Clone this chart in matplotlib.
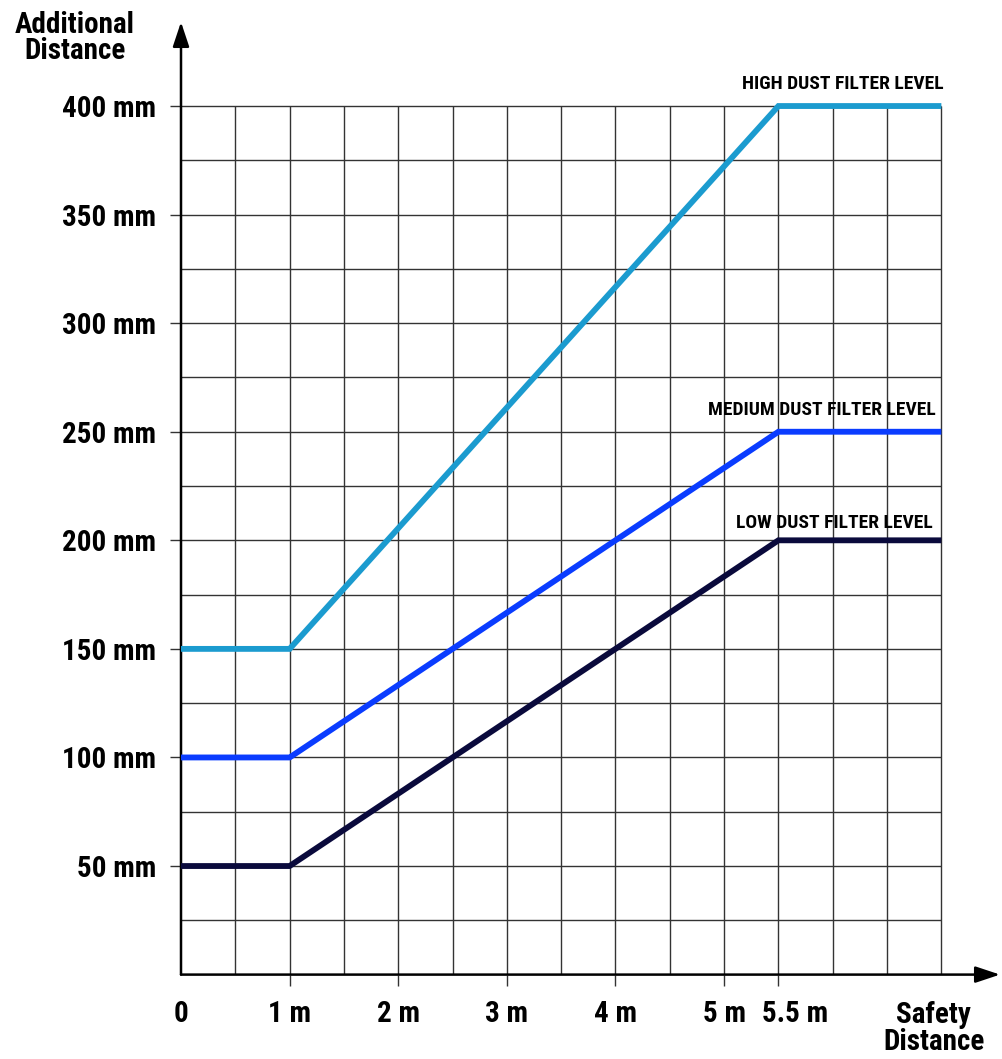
import numpy as np
import matplotlib.pyplot as plt
import matplotlib.transforms as mtransforms
from matplotlib import font_manager

# fuente condensada si existe
names = set(f.name for f in font_manager.fontManager.ttflist)
fam = [n for n in ["Liberation Sans Narrow", "Roboto Condensed", "Liberation Sans", "DejaVu Sans"] if n in names]
plt.rcParams['font.family'] = fam
plt.rcParams['font.weight'] = 'bold'

# datos
x_pts = [0, 1, 5.5, 7]
high = [150, 150, 400, 400]
medium = [100, 100, 250, 250]
low = [50, 50, 200, 200]
labels = ["HIGH DUST FILTER LEVEL", "MEDIUM DUST FILTER LEVEL", "LOW DUST FILTER LEVEL"]
colors = ["#1b9bcf", "#0a3cff", "#0a0a3c"]

xticks = [0, 1, 2, 3, 4, 5, 5.5]
xticklabels = ["0", "1 m", "2 m", "3 m", "4 m", "5 m", "5.5 m"]
yticks = [50, 100, 150, 200, 250, 300, 350, 400]
yticklabels = ["%d mm" % v for v in yticks]

fig = plt.figure(figsize=(10.02, 10.59), dpi=100)
ax = fig.add_axes([181/1002, (1059-974.6)/1059, (1000-181)/1002, 952.6/1059])
ax.set_xlim(0, 7.54)
ax.set_ylim(0, 438.7)

# rejilla
ax.vlines(np.arange(0.5, 7.01, 0.5), 0, 400, color="#333333", lw=1, zorder=1)
ax.hlines(np.arange(25, 401, 25), 0, 7, color="#333333", lw=1, zorder=1)

# ejes con flechas
for s in ax.spines.values():
    s.set_visible(False)
ax.annotate("", xy=(1, 0), xytext=(0, 0), xycoords="axes fraction",
            arrowprops=dict(arrowstyle="-|>,head_length=1.5,head_width=0.5", color="black", lw=1.8, shrinkA=0, shrinkB=0))
ax.annotate("", xy=(0, 1), xytext=(0, 0), xycoords="axes fraction",
            arrowprops=dict(arrowstyle="-|>,head_length=1.5,head_width=0.5", color="black", lw=1.8, shrinkA=0, shrinkB=0))

# lineas
for ys, c in zip([high, medium, low], colors):
    ax.plot(x_pts, ys, color=c, lw=4.2, solid_joinstyle="miter", solid_capstyle="butt", zorder=3)

ax.text(7.02, 400 + 6, labels[0], ha="right", va="bottom", fontsize=14, fontweight="bold")
ax.text(6.95, 250 + 6, labels[1], ha="right", va="bottom", fontsize=14, fontweight="bold")
ax.text(6.92, 200 + 4, labels[2], ha="right", va="bottom", fontsize=14, fontweight="bold")

ax.set_xticks(xticks)
ax.set_xticklabels(xticklabels, fontsize=21, fontweight="bold")
ax.set_yticks(yticks)
ax.set_yticklabels(yticklabels, fontsize=21, fontweight="bold")
ax.tick_params(axis="both", length=8, width=1, color="#333333", pad=10)
ax.xaxis.get_major_ticks()[0].tick1line.set_visible(False)

# correr la etiqueta 5.5 m a la derecha
lab = ax.get_xticklabels()[-1]
lab.set_transform(lab.get_transform() + mtransforms.ScaledTranslation(0.17, 0, fig.dpi_scale_trans))

ax.text(6.93, -12, "Safety\nDistance", ha="center", va="top", fontsize=21, fontweight="bold", linespacing=0.95)
fig.text(75/1002, 1 - 38/1059, "Additional\nDistance", ha="center", va="center", fontsize=21, fontweight="bold", linespacing=0.95)

fig.savefig("out.png", dpi=100)
